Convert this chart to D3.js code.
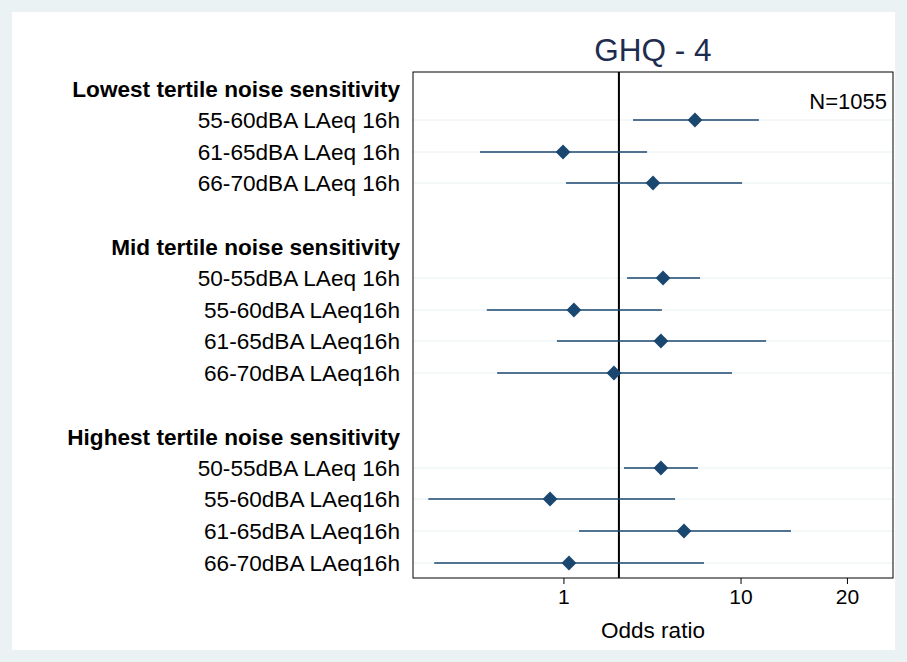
<!DOCTYPE html>
<html><head><meta charset="utf-8">
<script src="https://cdn.jsdelivr.net/npm/d3@7"></script>
<style>body{margin:0;background:#fff}text{font-family:Arial,"Liberation Sans",sans-serif}</style>
</head><body><div id="chart"></div>
<script>
// Rows (headers have no estimate)
const labels = ['Lowest tertile noise sensitivity','55-60dBA LAeq 16h','61-65dBA LAeq 16h','66-70dBA LAeq 16h',
  'Mid tertile noise sensitivity','50-55dBA LAeq 16h','55-60dBA LAeq16h','61-65dBA LAeq16h','66-70dBA LAeq16h',
  'Highest tertile noise sensitivity','50-55dBA LAeq 16h','55-60dBA LAeq16h','61-65dBA LAeq16h','66-70dBA LAeq16h'];
const rowY = [89,120,152,183,247,278,310,341,373,437,468,499,531,563];
const isHeader = [1,0,0,0,1,0,0,0,0,1,0,0,0,0];
const est = [null,6.94,0.97,4.65,null,5.16,1.34,5.05,2.87,null,5.05,0.55,6.30,1.17];
const lo  = [null,3.70,-1.34,1.07,null,3.43,-1.18,0.77,-0.93,null,3.30,-2.40,1.52,-2.29];
const hi  = [null,11.37,4.36,10.08,null,7.25,5.10,11.95,9.35,null,7.12,5.80,14.11,7.49];
const ticks = [1,10,20];
const refLine = 3.08;
const offset = 6.5;

const W = 907, H = 662;
const svg = d3.select('#chart').append('svg').attr('width', W).attr('height', H);
svg.append('rect').attr('width', W).attr('height', H).attr('fill', '#eaf2f3');
svg.append('rect').attr('x', 12).attr('y', 12).attr('width', W - 24).attr('height', H - 24).attr('fill', '#fff');

const pLeft = 413, pRight = 893, pTop = 72, pBottom = 578;
const x = d3.scaleLog().domain([-2.67 + offset, 25.96 + offset]).range([pLeft, pRight]);
const xv = v => x(v + offset);

const rows = labels.map((l, i) => ({ l, y: rowY[i], h: isHeader[i], e: est[i], lo: lo[i], hi: hi[i] }));
const navy = '#1a476f';

// grid lines
svg.selectAll('.grid').data(rows.filter(d => !d.h)).enter().append('line')
  .attr('x1', pLeft).attr('x2', pRight).attr('y1', d => d.y).attr('y2', d => d.y)
  .attr('stroke', '#eaf0f2').attr('stroke-width', 1);

svg.append('rect').attr('x', pLeft).attr('y', pTop).attr('width', pRight - pLeft).attr('height', pBottom - pTop)
  .attr('fill', 'none').attr('stroke', '#000').attr('stroke-width', 1);

svg.append('line').attr('x1', xv(refLine)).attr('x2', xv(refLine)).attr('y1', pTop).attr('y2', pBottom)
  .attr('stroke', '#000').attr('stroke-width', 2);

const pts = rows.filter(d => !d.h);
svg.selectAll('.ci').data(pts).enter().append('line')
  .attr('x1', d => xv(d.lo)).attr('x2', d => xv(d.hi)).attr('y1', d => d.y).attr('y2', d => d.y)
  .attr('stroke', navy).attr('stroke-width', 1.5);
svg.selectAll('.pt').data(pts).enter().append('path')
  .attr('d', d3.symbol(d3.symbolSquare, 110))
  .attr('transform', d => `translate(${xv(d.e)},${d.y}) rotate(45)`)
  .attr('fill', navy);

svg.selectAll('.lab').data(rows).enter().append('text')
  .attr('x', 400).attr('y', d => d.y).attr('dy', '0.35em').attr('text-anchor', 'end')
  .attr('font-size', 22.6).attr('font-weight', d => d.h ? 'bold' : 'normal').attr('fill', '#000')
  .text(d => d.l);

// axis
const ax = svg.append('g').attr('transform', `translate(0,${pBottom})`);
ticks.forEach(t => {
  ax.append('line').attr('x1', xv(t)).attr('x2', xv(t)).attr('y1', 0).attr('y2', 6).attr('stroke', '#000');
  ax.append('text').attr('x', xv(t)).attr('y', 26).attr('text-anchor', 'middle').attr('font-size', 21).text(t);
});
svg.append('text').attr('x', 653).attr('y', 638).attr('text-anchor', 'middle').attr('font-size', 22.5).text('Odds ratio');
svg.append('text').attr('x', 653).attr('y', 61).attr('text-anchor', 'middle').attr('font-size', 31.5)
  .attr('fill', '#1e2d4f').text('GHQ - 4');
svg.append('text').attr('x', 887).attr('y', 109).attr('text-anchor', 'end').attr('font-size', 22).text('N=1055');
</script></body></html>
